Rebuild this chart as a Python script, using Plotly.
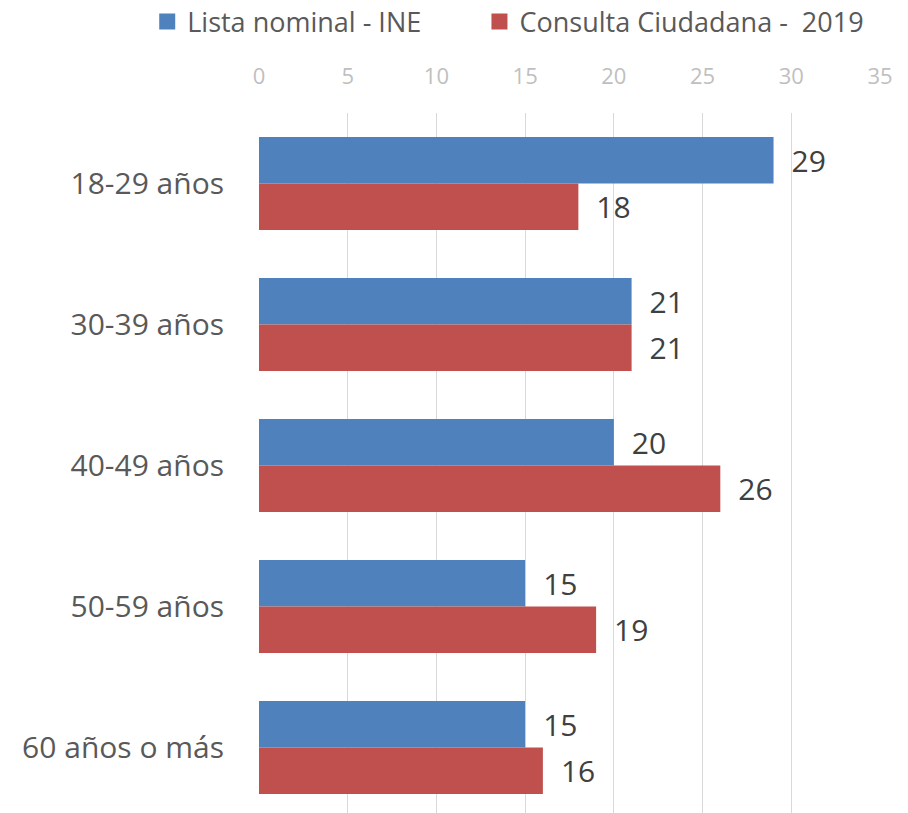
import plotly.graph_objects as go

categories = ["18-29 años", "30-39 años", "40-49 años", "50-59 años", "60 años o más"]
lista_nominal = [29, 21, 20, 15, 15]
consulta = [18, 21, 26, 19, 16]
series_names = ["Lista nominal - INE", "Consulta Ciudadana -  2019"]
series_colors = ["#4F81BD", "#C0504D"]
x_ticks = [0, 5, 10, 15, 20, 25, 30, 35]

FONT = "Open Sans"
fig = go.Figure()
for vals, name, color, leg in zip([lista_nominal, consulta], series_names, series_colors,
                                  ["legend", "legend2"]):
    fig.add_trace(go.Bar(
        y=categories, x=vals, orientation="h", name=name, showlegend=False,
        marker=dict(color=color, line=dict(width=0)),
        text=vals, texttemplate="\u2002%{x}", textposition="outside", constraintext="none",
        textfont=dict(size=30, color="#404040", family=FONT), cliponaxis=False,
    ))
    # legend entry with a larger square swatch
    fig.add_trace(go.Scatter(
        x=[None], y=[None], mode="markers", name=name, legend=leg, showlegend=True,
        marker=dict(symbol="square", size=16, color=color), hoverinfo="skip",
    ))

legend_common = dict(orientation="h", xanchor="left", y=1.13, yanchor="middle",
                     font=dict(size=27, color="#595959", family=FONT), itemwidth=30,
                     bgcolor="rgba(0,0,0,0)")
fig.update_layout(
    width=900, height=805,
    margin=dict(l=251, r=28, t=105, b=0, autoexpand=False),
    paper_bgcolor="white", plot_bgcolor="white",
    barmode="group", bargap=0.34, bargroupgap=0,
    font=dict(family=FONT, color="#595959"),
    showlegend=True,
    legend=dict(x=-0.18, **legend_common),
    legend2=dict(x=0.355, **legend_common),
    xaxis=dict(side="top", range=[0, 35], tickvals=x_ticks, showgrid=True, gridcolor="#D9D9D9",
               gridwidth=1.3, zeroline=False, showline=False,
               tickfont=dict(size=22, color="#BFBFBF", family=FONT),
               ticks="outside", ticklen=19, tickcolor="rgba(0,0,0,0)"),
    yaxis=dict(autorange=False, range=[4.465, -0.5], type="category", showgrid=False,
               tickfont=dict(size=30, color="#595959", family=FONT),
               ticks="outside", ticklen=28, tickcolor="rgba(0,0,0,0)", showline=False),
)
fig.write_html("out.html")
